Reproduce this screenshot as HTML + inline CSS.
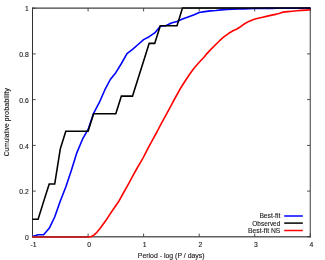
<!DOCTYPE html>
<html><head><meta charset="utf-8"><style>
html,body{margin:0;padding:0;background:#fff;}
svg{display:block;}
text{font-family:"Liberation Sans",sans-serif;font-size:6.8px;fill:#1a1a1a;stroke:#1a1a1a;stroke-width:0.12px;}
</style></head><body>
<svg width="325" height="260" viewBox="0 0 325 260">
<rect width="325" height="260" fill="#fff"/>
<g fill="none">
<line x1="32.5" y1="7.699999999999999" x2="32.5" y2="237.4" stroke="#303030" stroke-width="1"/>
<line x1="32.0" y1="8.2" x2="310.8" y2="8.2" stroke="#404040" stroke-width="1.2"/>
<line x1="310.3" y1="7.699999999999999" x2="310.3" y2="237.4" stroke="#686868" stroke-width="1.3"/>
<line x1="32.0" y1="236.8" x2="310.8" y2="236.8" stroke="#606060" stroke-width="1.5"/>
<g stroke="#383838" stroke-width="0.9"><line x1="32.5" y1="236.8" x2="35.7" y2="236.8"/><line x1="310.3" y1="236.8" x2="307.1" y2="236.8"/><line x1="32.5" y1="236.8" x2="32.5" y2="233.60000000000002"/><line x1="32.5" y1="8.2" x2="32.5" y2="11.399999999999999"/><line x1="32.5" y1="191.1" x2="35.7" y2="191.1"/><line x1="310.3" y1="191.1" x2="307.1" y2="191.1"/><line x1="88.1" y1="236.8" x2="88.1" y2="233.60000000000002"/><line x1="88.1" y1="8.2" x2="88.1" y2="11.399999999999999"/><line x1="32.5" y1="145.4" x2="35.7" y2="145.4"/><line x1="310.3" y1="145.4" x2="307.1" y2="145.4"/><line x1="143.6" y1="236.8" x2="143.6" y2="233.60000000000002"/><line x1="143.6" y1="8.2" x2="143.6" y2="11.399999999999999"/><line x1="32.5" y1="99.6" x2="35.7" y2="99.6"/><line x1="310.3" y1="99.6" x2="307.1" y2="99.6"/><line x1="199.2" y1="236.8" x2="199.2" y2="233.60000000000002"/><line x1="199.2" y1="8.2" x2="199.2" y2="11.399999999999999"/><line x1="32.5" y1="53.9" x2="35.7" y2="53.9"/><line x1="310.3" y1="53.9" x2="307.1" y2="53.9"/><line x1="254.7" y1="236.8" x2="254.7" y2="233.60000000000002"/><line x1="254.7" y1="8.2" x2="254.7" y2="11.399999999999999"/><line x1="32.5" y1="8.2" x2="35.7" y2="8.2"/><line x1="310.3" y1="8.2" x2="307.1" y2="8.2"/><line x1="310.3" y1="236.8" x2="310.3" y2="233.60000000000002"/><line x1="310.3" y1="8.2" x2="310.3" y2="11.399999999999999"/></g>
</g>
<polyline points="32.5,236.6 38.1,234.7 43.6,234.7 49.2,228.3 54.7,217 60.3,201 65.8,187 71.4,170.3 76.9,152.6 82.5,139.2 88.1,129.4 93.6,113.3 99.2,102.7 104.7,90.2 110.3,79.5 115.8,72.7 121.4,63.5 127.0,53.6 132.5,49.3 138.1,44.5 143.6,39.6 149.2,36.7 154.7,32.9 160.3,26.2 165.8,25.7 171.4,23.0 177.0,21.5 182.5,19.1 188.1,16.9 193.6,15.0 199.2,12.5 204.7,11.6 210.3,10.9 215.8,10.5 221.4,9.9 227.0,9.5 232.5,9.2 238.1,9.0 243.6,8.9 249.2,8.7 254.7,8.5 260.3,8.5 265.9,8.4 271.4,8.4 277.0,8.3 282.5,8.3 288.1,8.3 293.6,8.2 299.2,8.2 304.7,8.2 310.3,8.2" fill="none" stroke="#0000ff" stroke-width="1.6" stroke-linejoin="round"/>
<polyline points="32.5,219.22 38.1,219.22 43.6,201.63 49.2,184.05 54.7,184.05 60.3,148.88 65.8,131.29 88.1,131.29 93.6,113.71 115.8,113.71 121.4,96.12 132.5,96.12 149.2,43.37 154.7,43.37 160.3,25.78 177.0,25.78 182.5,7.95 310.3,7.95" fill="none" stroke="#000" stroke-width="1.6" stroke-linejoin="miter"/>
<polyline points="32.5,236.9 88.5,236.9 91.5,236.5 93.8,235.1 96.9,232.3 100,228.5 103.1,224.3 106.2,220 109.2,215.4 112.3,210.8 115.4,206.2 118.5,201.8 123.1,193.5 127.7,185.4 132.3,176.9 136.9,168.5 141.5,160.6 143.1,157.8 147.7,148.8 152.3,140.4 156.9,132.0 161.5,123.1 166.2,114.6 170.8,106.1 175.4,97.5 180.4,88.5 185,81.2 189.6,74.2 194.2,68 198.8,62.7 203.5,57.8 205.8,54.9 210.4,49.9 215,45.2 219.6,40.7 224.2,36.6 228.8,33.3 233.5,30.5 236.5,29.2 239.6,27.3 244.2,24.0 248.8,21.4 253.5,19.5 258.1,18.2 262.7,17.2 267.3,16.1 271.9,15.1 276.5,14.1 279.2,13.4 283.1,12.1 287.7,11.6 292.3,11.2 296.9,10.8 301.5,10.4 306.2,10.1 310.3,9.8" fill="none" stroke="#ff0000" stroke-width="1.6" stroke-linejoin="round"/>
<line x1="32.5" y1="236.8" x2="88.5" y2="236.8" stroke="#a82626" stroke-width="1.4"/>
<g style="filter:grayscale(1)"><text x="28.7" y="239.9" text-anchor="end">0</text><text x="28.7" y="194.2" text-anchor="end">0.2</text><text x="28.7" y="148.5" text-anchor="end">0.4</text><text x="28.7" y="102.7" text-anchor="end">0.6</text><text x="28.7" y="57.0" text-anchor="end">0.8</text><text x="28.7" y="11.3" text-anchor="end">1</text><text x="33.6" y="246.9" text-anchor="middle">-1</text><text x="89.2" y="246.9" text-anchor="middle">0</text><text x="144.7" y="246.9" text-anchor="middle">1</text><text x="200.3" y="246.9" text-anchor="middle">2</text><text x="255.8" y="246.9" text-anchor="middle">3</text><text x="311.4" y="246.9" text-anchor="middle">4</text>
<text x="171.2" y="258.2" text-anchor="middle" textLength="66.8" lengthAdjust="spacingAndGlyphs">Period - log (P / days)</text>
<text transform="translate(8.7,156.3) rotate(-90)" text-anchor="start" textLength="33" lengthAdjust="spacingAndGlyphs">Cumulative</text><text transform="translate(8.7,88.2) rotate(-90)" text-anchor="end" textLength="33.2" lengthAdjust="spacingAndGlyphs">probability</text>
<text x="280.3" y="218.3" text-anchor="end" textLength="20.9" lengthAdjust="spacingAndGlyphs">Best-fit</text>
<text x="280.3" y="225.6" text-anchor="end" textLength="28" lengthAdjust="spacingAndGlyphs">Observed</text>
<text x="280.3" y="232.9" text-anchor="end" textLength="32.3" lengthAdjust="spacingAndGlyphs">Best-fit NS</text>
</g>
<g stroke-width="1.5" fill="none">
<line x1="284.2" y1="216.0" x2="302.8" y2="216.0" stroke="#0000ff"/>
<line x1="284.2" y1="223.1" x2="302.8" y2="223.1" stroke="#000"/>
<line x1="284.2" y1="230.5" x2="302.8" y2="230.5" stroke="#ff0000"/>
</g>
</svg>
</body></html>
